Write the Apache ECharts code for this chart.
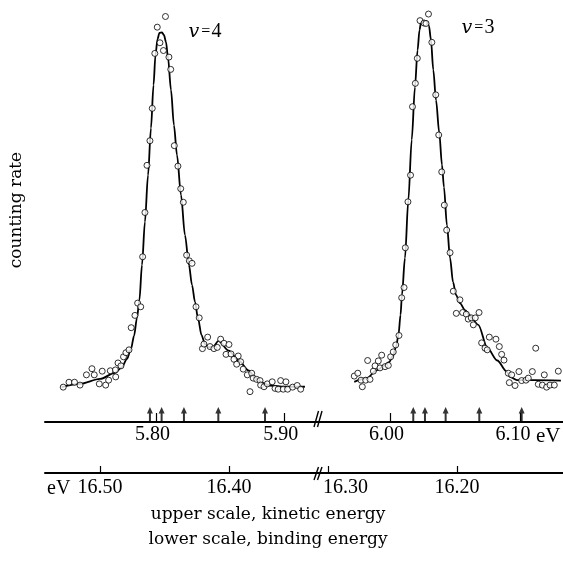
<!DOCTYPE html>
<html>
<head>
<meta charset="utf-8">
<script src="https://cdn.jsdelivr.net/npm/echarts@6/dist/echarts.min.js"></script>
<style>html,body{margin:0;padding:0;background:#fff;}#c{width:563px;height:561px;}</style>
</head>
<body>
<div id="c"></div>
<script>
// ---- data (kinetic energy in eV, counting rate in arbitrary units) ----
const leftPointsKE = [5.7277,5.7322,5.7365,5.7408,5.7458,5.7501,5.7519,5.7558,5.7581,5.7608,5.7631,5.7644,5.7684,5.7686,5.7704,5.7727,5.7747,5.7766,5.7790,5.7807,5.7836,5.7857,5.7881,5.7896,5.7914,5.7930,5.7953,5.7971,5.7991,5.8010,5.8031,5.8058,5.8074,5.8101,5.8115,5.8143,5.8171,5.8193,5.8213,5.8239,5.8260,5.8281,5.8312,5.8337,5.8362,5.8374,5.8403,5.8421,5.8452,5.8478,5.8504,5.8530,5.8569,5.8546,5.8585,5.8641,5.8608,5.8660,5.8629,5.8680,5.8712,5.8746,5.8758,5.8785,5.8811,5.8816,5.8842,5.8868,5.8906,5.8928,5.8953,5.8972,5.8992,5.9013,5.9026,5.9065,5.9101,5.9128,5.8733];
const leftPointsRate = [8.5,9.7,9.7,9.0,11.5,13.0,11.5,9.3,12.4,9.0,10.2,12.5,12.7,11.0,14.4,13.7,15.9,16.9,17.6,23.0,26.0,29.0,28.1,40.3,51.1,62.6,68.6,76.5,89.9,96.3,92.5,90.6,98.9,89.0,86.0,67.4,62.4,56.9,53.6,40.7,39.3,38.7,28.1,25.4,17.9,19.0,20.7,18.4,17.9,18.2,20.2,19.2,18.9,16.5,16.6,16.1,15.3,14.7,14.1,12.9,11.5,11.9,10.7,10.4,10.1,9.0,8.6,9.3,9.8,8.2,8.0,10.1,8.0,9.8,8.0,8.5,8.9,8.0,7.4];
const leftCurveKE = [5.7265,5.7408,5.7564,5.7680,5.7735,5.7774,5.7805,5.7829,5.7852,5.7871,5.7891,5.7914,5.7938,5.7961,5.7981,5.7996,5.8012,5.8027,5.8047,5.8062,5.8078,5.8094,5.8117,5.8140,5.8164,5.8195,5.8226,5.8257,5.8281,5.8304,5.8327,5.8355,5.8382,5.8413,5.8447,5.8487,5.8567,5.8647,5.8720,5.8779,5.8826,5.8889,5.9005,5.9161];
const leftCurveRate = [8.5,9.3,10.5,12.0,13.4,15.4,17.8,21.0,25.4,29.8,38.3,48.8,60.2,71.7,82.2,89.5,93.4,94.9,95.0,94.4,92.7,88.8,81.0,72.4,65.1,55.4,45.6,38.3,33.4,29.3,25.4,21.2,19.0,18.2,18.4,19.8,17.4,14.9,12.6,10.7,9.6,8.9,8.6,8.6];
const rightPointsKE = [5.9725,5.9752,5.9777,5.9787,5.9813,5.9828,5.9846,5.9872,5.9885,5.9910,5.9923,5.9936,5.9962,5.9987,6.0005,6.0025,6.0044,6.0069,6.0090,6.0108,6.0118,6.0138,6.0158,6.0173,6.0195,6.0210,6.0231,6.0262,6.0277,6.0296,6.0322,6.0352,6.0375,6.0398,6.0418,6.0436,6.0462,6.0487,6.0538,6.0510,6.0559,6.0587,6.0602,6.0625,6.0656,6.0685,6.0641,6.0764,6.0815,6.0705,6.0731,6.0748,6.0841,6.0859,6.0877,6.0910,6.0936,6.0992,6.0918,6.0962,6.1013,6.1046,6.1064,6.1095,6.1121,6.1141,6.1172,6.1187,6.1205,6.1231,6.1264,6.1295];
const rightPointsRate = [11.2,11.9,10.2,8.6,10.2,15.0,10.4,12.4,13.7,14.9,13.2,16.3,13.5,13.8,15.9,17.1,18.8,21.1,30.3,32.8,42.5,53.7,60.2,76.9,82.6,88.7,97.9,97.3,97.2,99.5,92.6,79.8,70.0,61.0,52.9,46.8,41.3,31.9,29.8,26.5,26.7,26.3,25.1,25.4,25.4,26.7,23.7,20.7,20.2,19.3,18.0,17.6,18.4,16.5,15.1,11.9,11.5,12.3,9.6,8.9,10.1,10.2,10.7,12.3,18.0,9.2,9.0,11.5,8.5,9.0,9.0,12.4];
const rightCurveKE = [5.9725,5.9821,5.9898,5.9954,5.9992,6.0023,6.0046,6.0065,6.0081,6.0092,6.0115,6.0141,6.0167,6.0192,6.0212,6.0227,6.0238,6.0262,6.0285,6.0300,6.0315,6.0333,6.0354,6.0379,6.0400,6.0415,6.0438,6.0462,6.0485,6.0508,6.0538,6.0577,6.0615,6.0679,6.0750,6.0825,6.0898,6.0923,6.0977,6.1102,6.1315];
const rightCurveRate = [9.8,10.7,12.6,13.7,14.6,16.1,18.3,21.2,26.1,31.0,40.0,54.1,68.8,81.7,90.7,95.6,97.4,97.9,97.7,96.6,93.2,85.9,78.5,70.5,62.7,57.3,48.0,40.0,34.1,31.0,29.0,27.3,26.0,23.7,18.0,15.0,12.3,11.0,10.2,10.2,10.1];
const leftArrowsKE = [5.7953,5.8044,5.8218,5.8486,5.8850];
const rightArrowsKE = [6.0179,6.0269,6.0428,6.0687,6.1013];
const kineticTicksLeft = [5.80, 5.90];
const kineticTicksRight = [6.00, 6.10];
const bindingTicksLeft = [16.50, 16.40];
const bindingTicksRight = [16.30, 16.20];
const peakLabels = ['4', '3'];

// ---- chart ----
const zip = (a, b) => a.map((v, i) => [v, b[i]]);
const SERIF = '"DejaVu Serif", "Liberation Serif", serif';
const LABEL_FONT = '"Liberation Serif", serif';
const chart = echarts.init(document.getElementById('c'), null, {renderer: 'canvas'});

function keAxis(grid, min, max, ticks) {
  return {
    type: 'value', gridIndex: grid, min: min, max: max, position: 'bottom',
    axisLine: {show: true, onZero: false, lineStyle: {color: '#000', width: 2}},
    axisTick: {show: true, inside: true, length: 9, customValues: ticks, lineStyle: {color: '#000', width: 1.2}},
    axisLabel: {show: true, customValues: ticks, margin: 3,
      formatter: v => (Math.abs(v - 6.10) < 1e-6) ? '{r|' + v.toFixed(2) + '}' : v.toFixed(2),
      rich: {r: {padding: [0, 7, 0, 0], fontFamily: LABEL_FONT, fontSize: 20, color: '#000'}},
      color: '#000', fontFamily: LABEL_FONT, fontSize: 20, padding: [0, 7, 0, 0]},
    splitLine: {show: false}
  };
}
function beAxis(grid, min, max, ticks, rich) {
  return {
    type: 'value', gridIndex: grid, min: min, max: max, inverse: true, position: 'bottom', offset: 51,
    axisLine: {show: true, onZero: false, lineStyle: {color: '#000', width: 2}},
    axisTick: {show: true, inside: true, length: 7, customValues: ticks, lineStyle: {color: '#000', width: 1.2}},
    axisLabel: {show: true, customValues: ticks, margin: 5,
      formatter: v => (rich && Math.abs(v - 16.30) < 1e-6) ? '{s|' + v.toFixed(2) + '}' : v.toFixed(2),
      rich: {s: {padding: [0, 0, 0, 35], fontFamily: LABEL_FONT, fontSize: 20, color: '#000'}},
      color: '#000', fontFamily: LABEL_FONT, fontSize: 20},
    splitLine: {show: false}
  };
}
const yAx = g => ({type: 'value', gridIndex: g, min: 0, max: 100, show: false});

const arrowSymbol = 'path://M3,0 L6,7 L4,7 L4,16 L2,16 L2,7 L0,7 Z';
function pointsSeries(ax, ke, rate) {
  return {type: 'scatter', xAxisIndex: ax, yAxisIndex: ax === 0 ? 0 : 1, data: zip(ke, rate),
    symbol: 'circle', symbolSize: 6, z: 5, clip: false,
    itemStyle: {color: '#fff', borderColor: '#000', borderWidth: 1}, silent: true};
}
function curveSeries(ax, ke, rate) {
  return {type: 'line', xAxisIndex: ax, yAxisIndex: ax === 0 ? 0 : 1, data: zip(ke, rate),
    showSymbol: false, smooth: 0.3, smoothMonotone: 'x', z: 3, clip: false,
    lineStyle: {color: '#000', width: 1.8}, silent: true};
}
function arrowSeries(ax, ke) {
  return {type: 'scatter', xAxisIndex: ax, yAxisIndex: ax === 0 ? 0 : 1, data: ke.map(v => [v, 0]),
    symbol: arrowSymbol, symbolSize: [6, 15], symbolOffset: [0, -7.5], z: 6, clip: false,
    itemStyle: {color: '#000'}, silent: true};
}
const peakText = (x, y, n) => ({type: 'text', x: x, y: y,
  style: {text: '{i|v}{e|=}{n|' + n + '}', align: 'center', verticalAlign: 'middle',
    rich: {i: {fontFamily: SERIF, fontStyle: 'italic', fontSize: 19, fill: '#000'},
           e: {fontFamily: LABEL_FONT, fontSize: 16, fill: '#000', padding: [0, 1, 0, 2]},
           n: {fontFamily: LABEL_FONT, fontSize: 20, fill: '#000'}}}});

const option = {
  backgroundColor: '#fff',
  animation: false,
  grid: [
    {left: 45, top: 12, width: 273, height: 410},
    {left: 318, top: 12, width: 245, height: 410}
  ],
  xAxis: [
    keAxis(0, 5.7135, 5.9263, kineticTicksLeft),
    keAxis(1, 5.9446, 6.1331, kineticTicksRight),
    beAxis(0, 16.331, 16.5426, bindingTicksLeft, false),
    beAxis(1, 16.1178, 16.3078, bindingTicksRight, true)
  ],
  yAxis: [yAx(0), yAx(1)],
  series: [
    curveSeries(0, leftCurveKE, leftCurveRate),
    pointsSeries(0, leftPointsKE, leftPointsRate),
    arrowSeries(0, leftArrowsKE),
    curveSeries(1, rightCurveKE, rightCurveRate),
    pointsSeries(1, rightPointsKE, rightPointsRate),
    arrowSeries(1, rightArrowsKE)
  ],
  graphic: [
    {type: 'text', x: 17, y: 210, rotation: Math.PI / 2,
      style: {text: 'counting rate', fill: '#000', font: '17px ' + SERIF, align: 'center', verticalAlign: 'middle'}},
    peakText(205, 32, peakLabels[0]),
    peakText(478, 28, peakLabels[1]),
    {type: 'text', x: 536, y: 426,
      style: {text: 'eV', fill: '#000', font: '21px ' + LABEL_FONT, align: 'left', verticalAlign: 'top'}},
    {type: 'text', x: 47, y: 479,
      style: {text: 'eV', fill: '#000', font: '20px ' + LABEL_FONT, align: 'left', verticalAlign: 'top'}},
    {type: 'line', shape: {x1: 314, y1: 427, x2: 318.5, y2: 411}, style: {stroke: '#000', lineWidth: 1.4}},
    {type: 'line', shape: {x1: 317.5, y1: 427, x2: 322, y2: 411}, style: {stroke: '#000', lineWidth: 1.4}},
    {type: 'line', shape: {x1: 314, y1: 480, x2: 318.5, y2: 467}, style: {stroke: '#000', lineWidth: 1.4}},
    {type: 'line', shape: {x1: 317.5, y1: 480, x2: 322, y2: 467}, style: {stroke: '#000', lineWidth: 1.4}},
    {type: 'text', x: 268, y: 515,
      style: {text: 'upper scale, kinetic energy', fill: '#000', font: '17px ' + SERIF, align: 'center', verticalAlign: 'middle'}},
    {type: 'text', x: 268, y: 540,
      style: {text: 'lower scale, binding energy', fill: '#000', font: '17px ' + SERIF, align: 'center', verticalAlign: 'middle'}}
  ]
};
chart.setOption(option);
</script>
</body>
</html>
